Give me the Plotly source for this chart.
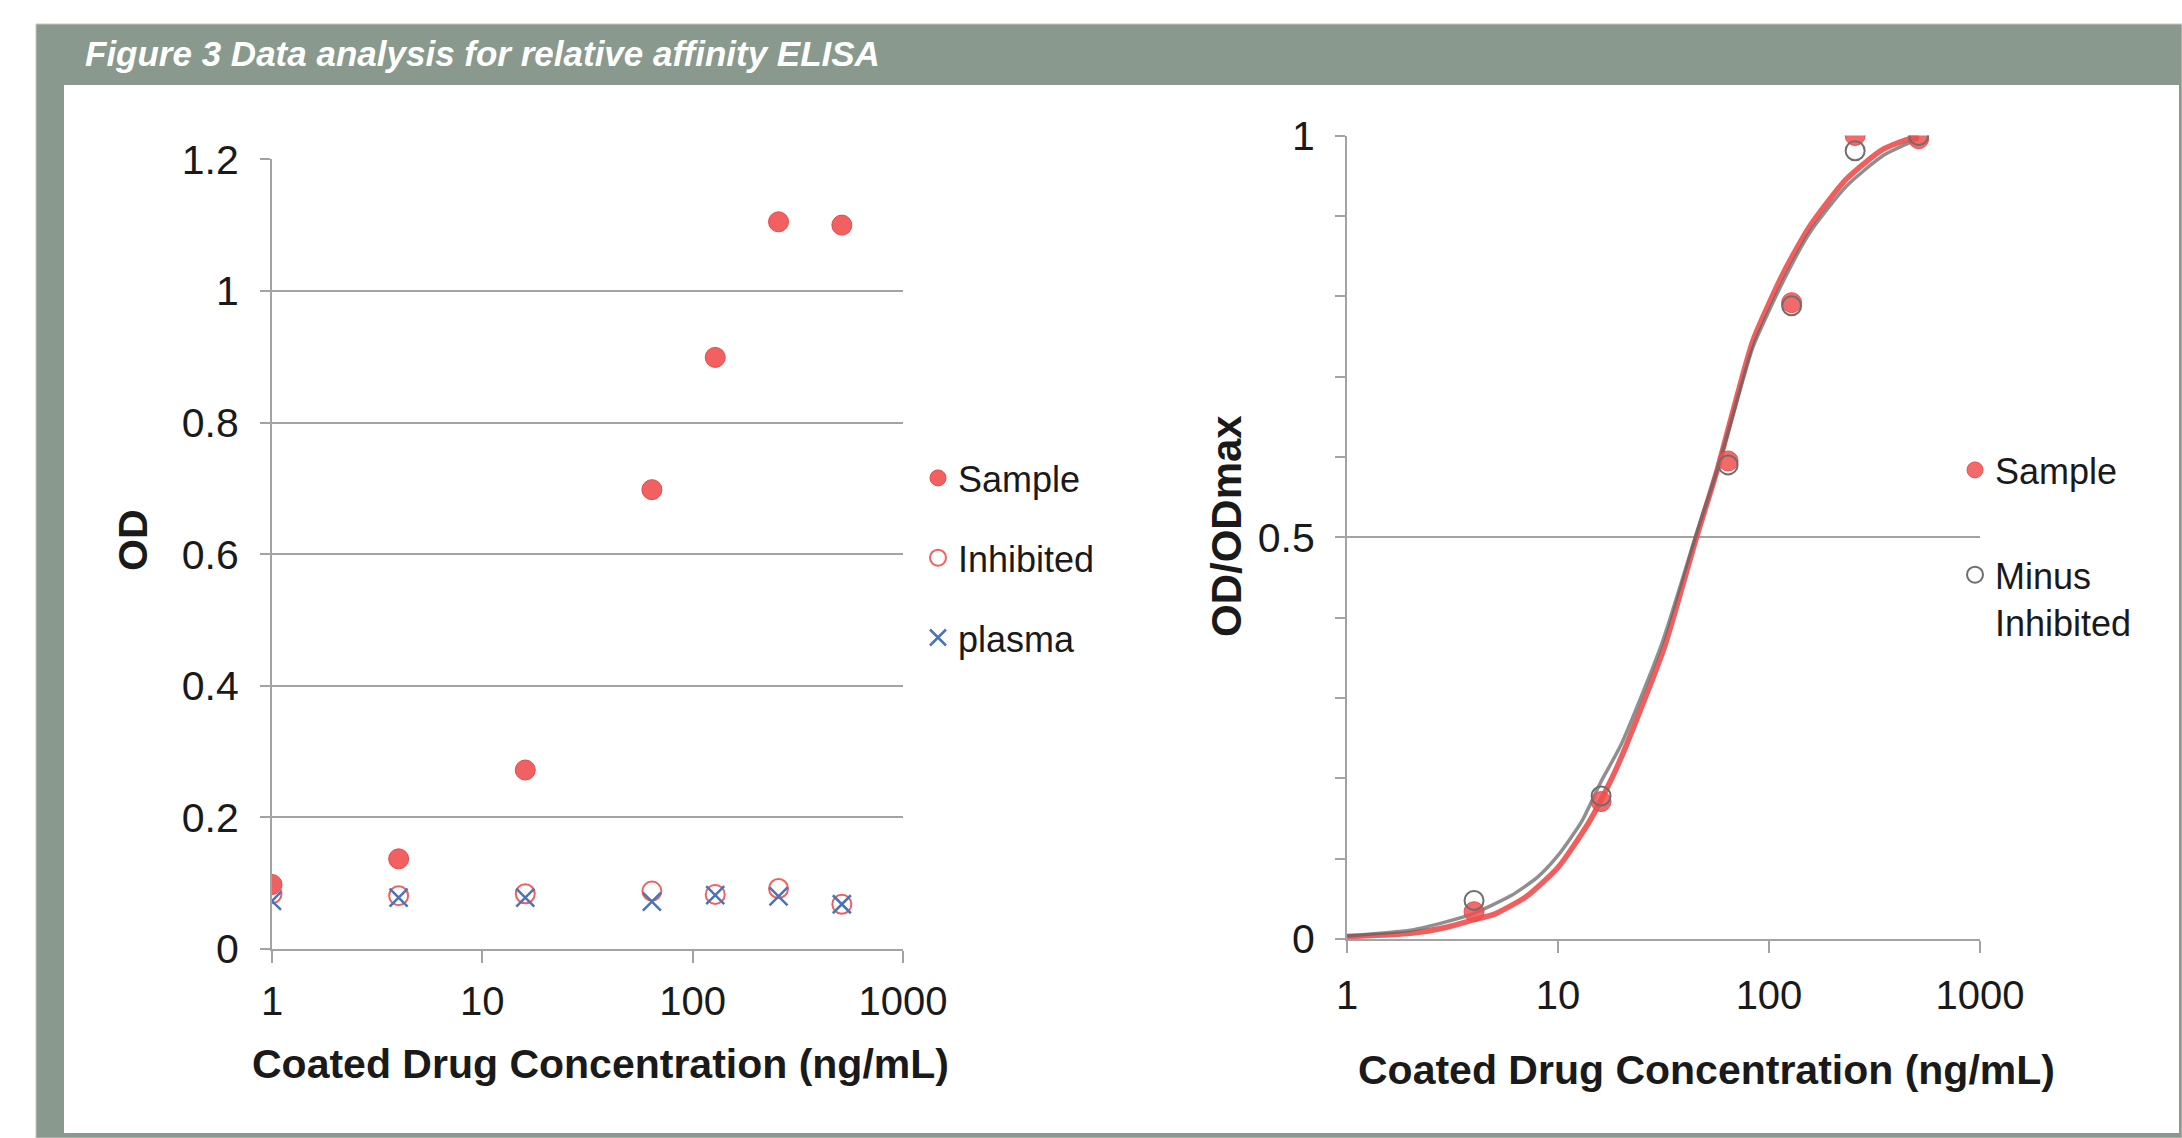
import plotly.graph_objects as go

W, H = 2182, 1138

# ---------------- data ----------------
conc = [1, 4, 16, 64, 128, 256, 512]
sample_od = [0.098, 0.137, 0.272, 0.698, 0.899, 1.105, 1.100]
inhibited_od = [0.084, 0.081, 0.084, 0.088, 0.083, 0.092, 0.068]
plasma_od = [0.073, 0.078, 0.078, 0.072, 0.082, 0.080, 0.068]

conc_norm = [4, 16, 64, 128, 256, 512]
sample_norm = [0.034, 0.171, 0.595, 0.792, 1.000, 0.996]
minus_inh_norm = [0.048, 0.178, 0.590, 0.788, 0.981, 1.000]

fit_sample_x = [1, 2, 3, 4, 5, 7, 10, 14, 18, 21, 32, 45, 57, 68, 84, 117, 156, 233, 348, 512]
fit_sample_y = [0.003, 0.007, 0.015, 0.024, 0.031, 0.052, 0.089, 0.145, 0.200, 0.240,
                0.364, 0.497, 0.585, 0.660, 0.745, 0.829, 0.887, 0.946, 0.983, 1.000]
fit_minus_x = [1, 2, 3, 4, 6, 8, 10, 13, 16, 20, 31, 45, 57, 68, 84, 117, 156, 233, 348, 512]
fit_minus_y = [0.004, 0.011, 0.022, 0.032, 0.054, 0.077, 0.104, 0.147, 0.196, 0.243,
               0.367, 0.502, 0.585, 0.655, 0.737, 0.819, 0.879, 0.937, 0.975, 0.996]

x_tickvals = [1, 10, 100, 1000]
x_ticktext = ["1", "10", "100", "1000"]
left_ytickvals = [0, 0.2, 0.4, 0.6, 0.8, 1.0, 1.2]
left_yticktext = ["0", "0.2", "0.4", "0.6", "0.8", "1", "1.2"]
right_ytickvals = [0, 0.5, 1.0]
right_yticktext = ["0", "0.5", "1"]

title_text = "Figure 3 Data analysis for relative affinity ELISA"
x_title = "Coated Drug Concentration (ng/mL)"

# ---------------- styles ----------------
FONT = "Liberation Sans, Arial, Helvetica, sans-serif"
RED = "rgba(240,84,84,0.92)"
RED_EDGE = "#E84848"
BLUE = "#4A74B4"
GREY_MK = "#6E6E6E"
AX = "#A3A3A3"
FRAME = "rgb(138,153,142)"


def px(x):
    return x / W


def py(y):
    return 1 - y / H


fig = go.Figure()

# left panel
fig.add_trace(go.Scatter(x=conc, y=sample_od, mode="markers", name="Sample",
                         marker=dict(symbol="circle", size=20, color=RED,
                                     line=dict(color=RED_EDGE, width=1)),
                         xaxis="x", yaxis="y", legend="legend", legendgroup="a"))
fig.add_trace(go.Scatter(x=conc, y=inhibited_od, mode="markers", name="Inhibited",
                         marker=dict(symbol="circle-open", size=19, color="#F06060",
                                     line=dict(color="#F06060", width=2)),
                         xaxis="x", yaxis="y", legend="legend", legendgroup="b"))
fig.add_trace(go.Scatter(x=conc, y=plasma_od, mode="markers", name="plasma",
                         marker=dict(symbol="x-thin-open", size=18, color=BLUE,
                                     line=dict(color=BLUE, width=2.5)),
                         xaxis="x", yaxis="y", legend="legend", legendgroup="c"))

# right panel
fig.add_trace(go.Scatter(x=fit_sample_x, y=fit_sample_y, mode="lines", showlegend=False,
                         line=dict(color="rgba(240,80,80,0.92)", width=5.5, shape="spline", smoothing=0.6),
                         xaxis="x2", yaxis="y2", hoverinfo="skip"))
fig.add_trace(go.Scatter(x=fit_minus_x, y=fit_minus_y, mode="lines", showlegend=False,
                         line=dict(color="rgba(95,95,95,0.7)", width=3.5, shape="spline", smoothing=0.6),
                         xaxis="x2", yaxis="y2", hoverinfo="skip"))
fig.add_trace(go.Scatter(x=conc_norm, y=sample_norm, mode="markers", name="Sample",
                         marker=dict(symbol="circle", size=20, color="rgba(240,80,80,0.85)",
                                     line=dict(color="rgba(232,72,72,0.9)", width=1)),
                         xaxis="x2", yaxis="y2", legend="legend2", legendgroup="d"))
fig.add_trace(go.Scatter(x=conc_norm, y=minus_inh_norm, mode="markers", name="Minus<br>Inhibited",
                         marker=dict(symbol="circle-open", size=19, color=GREY_MK,
                                     line=dict(color=GREY_MK, width=2)),
                         xaxis="x2", yaxis="y2", legend="legend2", legendgroup="e"))

common_x = dict(type="log", range=[0, 3], showline=True, linecolor=AX, linewidth=2,
                ticks="outside", ticklen=12, tickwidth=2, tickcolor=AX,
                tickvals=x_tickvals, ticktext=x_ticktext, showgrid=False, zeroline=False,
                automargin=False,
                tickfont=dict(family=FONT, size=40, color="#1a1a1a"))
common_y = dict(showline=True, linecolor=AX, linewidth=2, ticks="outside", ticklen=10,
                tickwidth=2, tickcolor=AX, showgrid=True, gridcolor=AX, gridwidth=2,
                zeroline=False, automargin=False,
                tickfont=dict(family=FONT, size=41, color="#1a1a1a"))

shapes = [
    dict(type="rect", xref="paper", yref="paper", x0=px(36), x1=1.0, y0=0.0, y1=py(24),
         fillcolor=FRAME, line=dict(color="#c4c9c5", width=1), layer="below"),
    dict(type="rect", xref="paper", yref="paper", x0=px(64), x1=px(2179), y0=py(1133), y1=py(85),
         fillcolor="white", line=dict(width=0), layer="below"),
]

annotations = [
    dict(text=title_text, xref="paper", yref="paper", x=px(83), y=py(54), xanchor="left",
         yanchor="middle", showarrow=False,
         font=dict(family=FONT, size=35, color="white", weight="bold", style="italic")),
    dict(text="OD", xref="paper", yref="paper", x=px(133), y=py(540), textangle=-90,
         xanchor="center", yanchor="middle", showarrow=False,
         font=dict(family=FONT, size=41, color="#1a1a1a", weight="bold")),
    dict(text="OD/ODmax", xref="paper", yref="paper", x=px(1226), y=py(526), textangle=-90,
         xanchor="center", yanchor="middle", showarrow=False,
         font=dict(family=FONT, size=42, color="#1a1a1a", weight="bold")),
    dict(text=x_title, xref="paper", yref="paper", x=px(600), y=py(1064),
         xanchor="center", yanchor="middle", showarrow=False,
         font=dict(family=FONT, size=41, color="#1a1a1a", weight="bold")),
    dict(text=x_title, xref="paper", yref="paper", x=px(1706), y=py(1070),
         xanchor="center", yanchor="middle", showarrow=False,
         font=dict(family=FONT, size=41, color="#1a1a1a", weight="bold")),
]

fig.update_layout(
    width=W, height=H, autosize=False,
    margin=dict(l=0, r=0, t=0, b=0, autoexpand=False),
    paper_bgcolor="white", plot_bgcolor="rgba(0,0,0,0)",
    font=dict(family=FONT, color="#1a1a1a"),
    xaxis=dict(domain=[px(272), px(903)], anchor="y", ticklabelstandoff=4, **common_x),
    yaxis=dict(domain=[py(949), py(159.3)], anchor="x", range=[0, 1.2],
               tickvals=left_ytickvals, ticktext=left_yticktext, ticklabelstandoff=13, **common_y),
    xaxis2=dict(domain=[px(1347), px(1980)], anchor="y2", ticklabelstandoff=8, **common_x),
    yaxis2=dict(domain=[py(939), py(135.5)], anchor="x2", range=[0, 1],
                tickvals=right_ytickvals, ticktext=right_yticktext, ticklabelstandoff=12,
                minor=dict(ticks="outside", ticklen=10, tickwidth=2, tickcolor=AX,
                           dtick=0.1, showgrid=False),
                **common_y),
    legend=dict(x=px(918), y=py(448), xanchor="left", yanchor="top",
                bgcolor="rgba(0,0,0,0)", font=dict(family=FONT, size=36, color="#1a1a1a"),
                tracegroupgap=30, itemwidth=30, traceorder="grouped"),
    legend2=dict(x=px(1955), y=py(440), xanchor="left", yanchor="top",
                 bgcolor="rgba(0,0,0,0)", font=dict(family=FONT, size=36, color="#1a1a1a"),
                 tracegroupgap=55, itemwidth=30, traceorder="grouped", valign="top"),
    shapes=shapes,
    annotations=annotations,
    showlegend=True,
)

fig.write_html("out.html")
